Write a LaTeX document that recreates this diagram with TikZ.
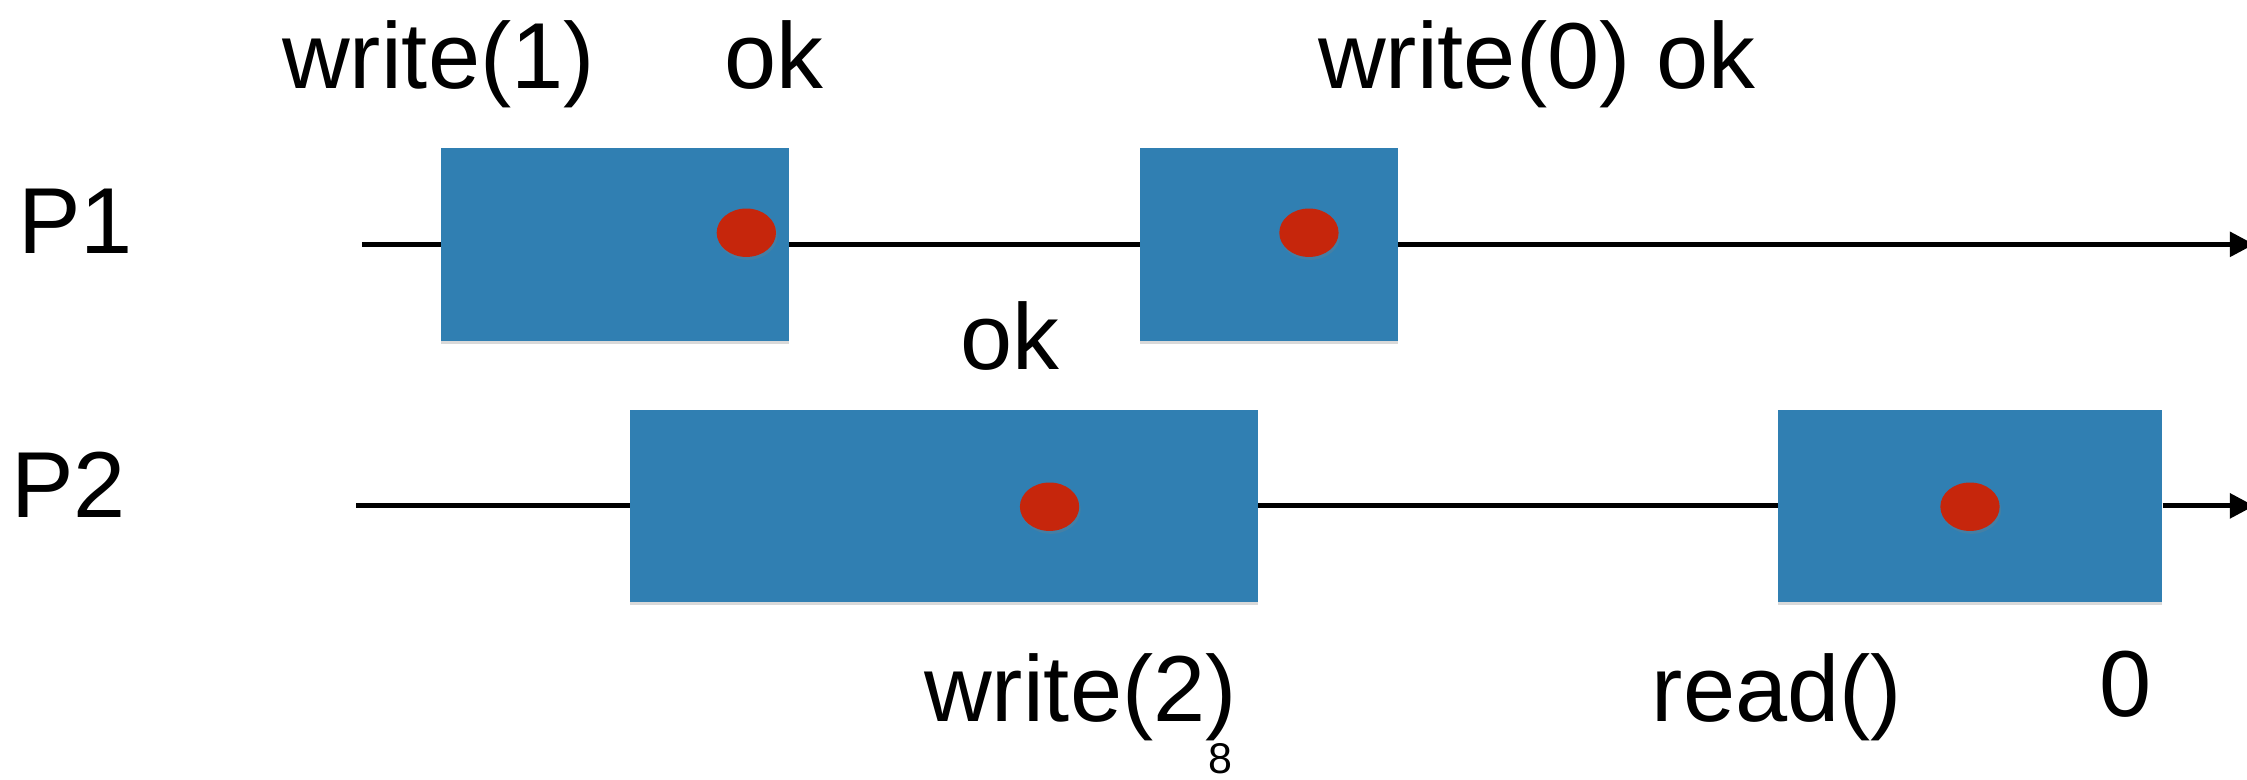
\documentclass[tikz,border=0pt]{standalone}
\usepackage{fontspec}
\setmainfont{Liberation Sans}
\usetikzlibrary{arrows.meta,shapes.geometric,shadows}
\definecolor{opblue}{RGB}{48,127,178}
\definecolor{lindot}{RGB}{198,38,12}
\tikzset{
  lbl/.style={inner sep=0pt, anchor=base, font=\fontsize{65.4}{78}\selectfont},
  opbox/.style={fill=opblue, draw=none, inner sep=0pt,
    drop shadow={shadow xshift=0pt, shadow yshift=-2.5pt, opacity=0.3}},
  lpoint/.style={ellipse, fill=lindot, draw=none, inner sep=0pt,
    minimum width=41.4pt, minimum height=33.8pt,
    drop shadow={shadow xshift=1pt, shadow yshift=-2pt, opacity=0.25}},
  timeline/.style={line width=3.4pt, black},
  tip/.style={-{Triangle[length=17pt,width=17pt]}}
}
\begin{document}
\begin{tikzpicture}[x=1pt,y=-1pt]
\useasboundingbox (0,0) rectangle (1568,544);

% process labels
\node[lbl, anchor=base west] (p1) at (12.5,177) {P1};
\node[lbl, anchor=base west] (p2) at (7.5,361) {P2};

% operation intervals
\node[opbox, minimum width=243pt, minimum height=134.4pt] (b1) at (429.2,170.5) {};
\node[opbox, minimum width=180pt, minimum height=134.4pt] (b2) at (885.4,170.5) {};
\node[opbox, minimum width=438pt, minimum height=134pt] (b3) at (658.9,353) {};
\node[opbox, minimum width=268pt, minimum height=134pt] (b4) at (1374.9,353) {};

% timelines
\coordinate (s1) at (252.6,170.5);
\coordinate (e1) at (1573,170.5);
\coordinate (s2) at (248.6,353);
\coordinate (e2) at (1573,353);
\draw[timeline] (s1) -- (b1.west);
\draw[timeline] (b1.east) -- (b2.west);
\draw[timeline, tip] (b2.east) -- (e1);
\draw[timeline] (s2) -- (b3.west);
\draw[timeline] (b3.east) -- (b4.west);
\draw[timeline, tip] (b4.east) -- (e2);

% linearization points
\node[lpoint] (d1) at (520.8,162.4) {};
\node[lpoint] (d2) at (913.4,162.4) {};
\node[lpoint] (d3) at (732.4,353.6) {};
\node[lpoint] (d4) at (1374.7,353.6) {};

% invocation and response labels
\node[lbl] (w1) at (306,62) {write(1)};
\node[lbl] (ok1) at (540,62) {ok};
\node[lbl] (w0) at (1072.5,62) {write(0) ok};
\node[lbl] (ok2) at (705,258) {ok};
\node[lbl] (w2) at (754,503.6) {write(2)};
\node[lbl] (rd) at (1240,503.6) {read()};
\node[lbl] (r0) at (1483,500) {0};

% page number
\node[inner sep=0pt, anchor=base, font=\fontsize{30}{36}\selectfont] (pg) at (851.4,539.5) {8};
\end{tikzpicture}
\end{document}
